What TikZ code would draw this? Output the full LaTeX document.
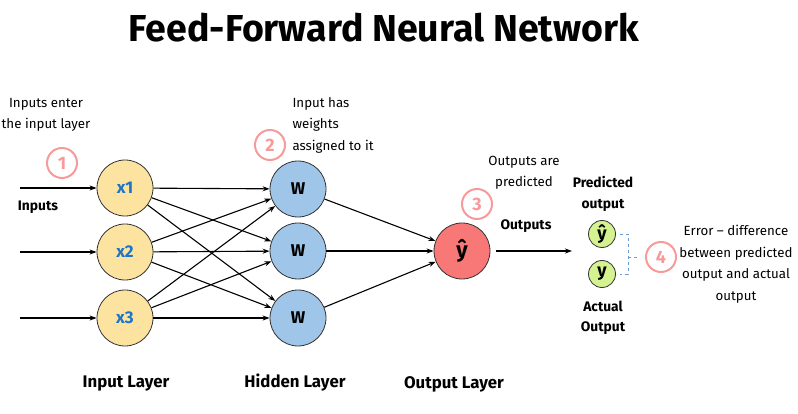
\documentclass[tikz,border=0pt]{standalone}
\usepackage{fontspec}
\setmainfont{Fira Sans}
\usetikzlibrary{arrows.meta,calc}
\definecolor{inyel}{HTML}{FCE4A0}
\definecolor{hidblue}{HTML}{9FC5E8}
\definecolor{outred}{HTML}{F87878}
\definecolor{ygreen}{HTML}{D4F290}
\definecolor{salmon}{HTML}{F79A9A}
\definecolor{xblue}{HTML}{1E74C6}
\definecolor{brblue}{HTML}{6A9BD8}
\tikzset{
  neuron/.style={circle,draw=black!80,line width=0.8pt,minimum size=56pt,inner sep=0pt,font=\fontsize{17}{19}\selectfont\bfseries},
  inneuron/.style={neuron,fill=inyel,text=xblue},
  hidneuron/.style={neuron,fill=hidblue},
  outneuron/.style={neuron,fill=outred,font=\fontsize{22}{24}\selectfont\bfseries},
  smallneuron/.style={circle,draw=black!80,line width=0.8pt,fill=ygreen,minimum size=27pt,inner sep=0pt,font=\fontsize{18}{20}\selectfont\bfseries},
  stepnum/.style={circle,draw=salmon,line width=2pt,minimum size=30pt,inner sep=0pt,text=salmon,font=\fontsize{18}{20}\selectfont\bfseries},
  conn/.style={-{Stealth[length=7pt,width=5pt]},line width=1.1pt,black},
  note/.style={font=\fontsize{13.3}{21.5}\selectfont,align=center,text=black},
  notel/.style={font=\fontsize{13.3}{21.5}\selectfont,align=left,text=black},
  boldlab/.style={font=\fontsize{13.8}{20.5}\selectfont\bfseries,align=center},
  layerlab/.style={font=\fontsize{16.8}{19}\selectfont\bfseries}
}
\begin{document}
\begin{tikzpicture}[x=1pt,y=-1pt]
\useasboundingbox (0,0) rectangle (798,414);
\node[font=\fontsize{37.5}{42}\selectfont\bfseries] (title) at (384,28) {Feed-Forward Neural Network};

% input layer
\node[inneuron] (x1) at (125,188) {x1};
\node[inneuron] (x2) at (125,252) {x2};
\node[inneuron] (x3) at (125,318) {x3};
% hidden
\node[hidneuron] (h1) at (298,189) {W};
\node[hidneuron] (h2) at (298,251) {W};
\node[hidneuron] (h3) at (298,318) {W};
% output
\node[outneuron] (o) at (462,251) {ŷ};

% input arrows
\coordinate (i1) at (20,188);
\coordinate (i2) at (20,252);
\coordinate (i3) at (20,318);
\draw[conn] (i1) -- (x1);
\draw[conn] (i2) -- (x2);
\draw[conn] (i3) -- (x3);

\foreach \a in {x1,x2,x3}{
  \foreach \b in {h1,h2,h3}{
    \draw[conn] (\a) -- (\b);
  }
}
\foreach \b in {h1,h2,h3}{
  \draw[conn] (\b) -- (o);
}

% output arrow
\coordinate (oe) at (572,251);
\draw[conn] (o.east) ++(6,0) coordinate (os) -- (oe);

% predicted / actual
\node[smallneuron] (yp) at (602,234) {ŷ};
\node[smallneuron] (ya) at (602,274) {y};
\draw[brblue,dashed,line width=0.6pt] ($(yp.east)+(4,0)$) -| ($(yp.east)+(12,20)$) |- ($(ya.east)+(4,0)$);
\draw[brblue,dashed,line width=0.6pt] ($(yp.east)+(12,23)$) -- ($(yp.east)+(22,23)$);

% step numbers
\node[stepnum] (s1) at (62,163) {1};
\node[stepnum] (s2) at (270,145) {2};
\node[stepnum] (s3) at (477,204) {3};
\node[stepnum] (s4) at (661,257) {4};

% notes
\node[note] (n1) at (46,115) {Inputs enter\\the input layer};
\node[notel,anchor=west] (n2) at (289,125) {Input has\\weights\\assigned to it};
\node[note] (n3) at (524,173) {Outputs are\\predicted};
\node[note] (n4) at (736,264) {Error -- difference\\between predicted\\output and actual\\output};

\node[boldlab] (inl) at (38,207) {Inputs};
\node[boldlab] (outl) at (526,226) {Outputs};
\node[boldlab] (pl) at (603,194) {Predicted\\output};
\node[boldlab] (al) at (603,318) {Actual\\Output};

\node[layerlab] (L1) at (126,384) {Input Layer};
\node[layerlab] (L2) at (295,383) {Hidden Layer};
\node[layerlab] (L3) at (454,384) {Output Layer};
\end{tikzpicture}
\end{document}
